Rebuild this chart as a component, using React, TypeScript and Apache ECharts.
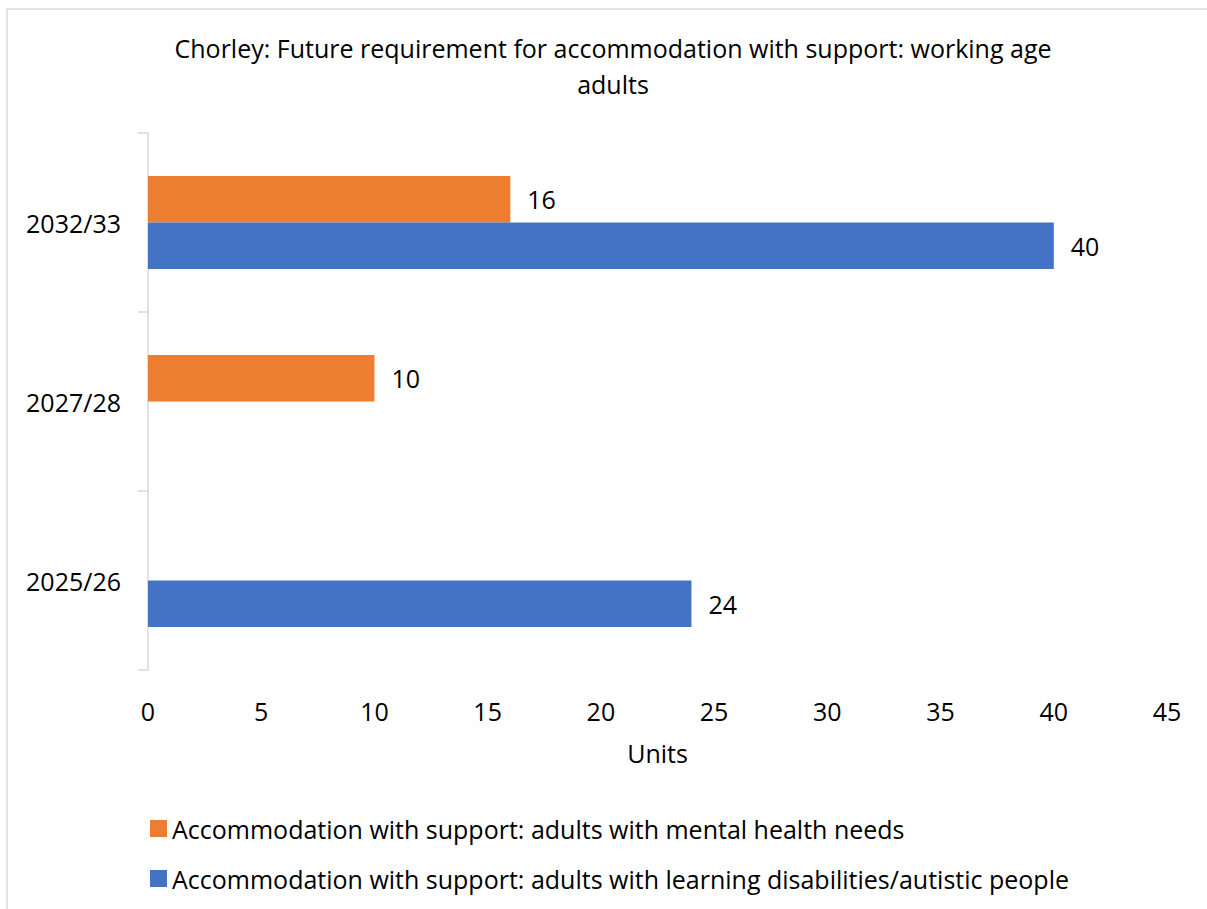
import React, { useEffect, useRef } from "react";
import * as echarts from "echarts";

const categories = ["2025/26", "2027/28", "2032/33"];
const mentalHealth = [null, 10, 16];
const learningDisabilities = [24, null, 40];
const seriesNames = [
  "Accommodation with support: adults with mental health needs",
  "Accommodation with support: adults with learning disabilities/autistic people",
];
const titleText = "Chorley: Future requirement for accommodation with support: working age\nadults";
const xMax = 45;
const xInterval = 5;

const FONT = "'Open Sans', 'Noto Sans', sans-serif";
const FS = 25;

export default function App() {
  const ref = useRef<HTMLDivElement>(null);
  useEffect(() => {
    if (!ref.current) return;
    const chart = echarts.init(ref.current, undefined, { renderer: "svg" });
    const labelStyle = {
      show: true,
      position: "right" as const,
      distance: 17,
      color: "#000",
      fontSize: FS,
      fontFamily: FONT,
    };
    chart.setOption({
      animation: false,
      backgroundColor: "#fff",
      textStyle: { fontFamily: FONT },
      title: {
        text: titleText,
        left: 608,
        textAlign: "center",
        top: 25,
        textStyle: {
          fontSize: FS,
          fontWeight: "normal",
          color: "#000",
          lineHeight: 36,
          fontFamily: FONT,
        },
      },
      graphic: [
        {
          type: "rect",
          shape: { x: 7, y: 9, width: 1400, height: 1000 },
          style: { fill: "none", stroke: "#d9d9d9", lineWidth: 1.5 },
          silent: true,
        },
      ],
      legend: {
        orient: "vertical",
        left: 145,
        top: 811,
        itemWidth: 17,
        itemHeight: 17,
        itemGap: 25,
        icon: "rect",
        textStyle: { fontSize: FS, color: "#000", fontFamily: FONT },
        data: seriesNames,
      },
      grid: { left: 148, right: 40, top: 133, bottom: 239, containLabel: false },
      xAxis: {
        type: "value",
        min: 0,
        max: xMax,
        interval: xInterval,
        name: "Units",
        nameLocation: "middle",
        nameGap: 70,
        nameTextStyle: { fontSize: FS, color: "#000", fontFamily: FONT },
        axisLine: { show: false },
        axisTick: { show: false },
        splitLine: { show: false },
        axisLabel: { fontSize: FS, color: "#000", margin: 28, fontFamily: FONT },
      },
      yAxis: {
        type: "category",
        data: categories,
        axisLine: { show: true, lineStyle: { color: "#d9d9d9", width: 1.5 } },
        axisTick: { show: true, length: 10, lineStyle: { color: "#d9d9d9", width: 1.5 } },
        axisLabel: { fontSize: FS, color: "#000", margin: 27, fontFamily: FONT },
        splitLine: { show: false },
      },
      series: [
        {
          name: seriesNames[0],
          type: "bar",
          data: mentalHealth,
          itemStyle: { color: "#ED7D31" },
          barGap: "0%",
          barCategoryGap: "48%",
          label: labelStyle,
        },
        {
          name: seriesNames[1],
          type: "bar",
          data: learningDisabilities,
          itemStyle: { color: "#4472C4" },
          barGap: "0%",
          barCategoryGap: "48%",
          label: labelStyle,
        },
      ],
    });
    return () => chart.dispose();
  }, []);
  return (
    <div
      ref={ref}
      style={{ position: "absolute", left: 0, top: 0, width: 1207, height: 909 }}
    />
  );
}
